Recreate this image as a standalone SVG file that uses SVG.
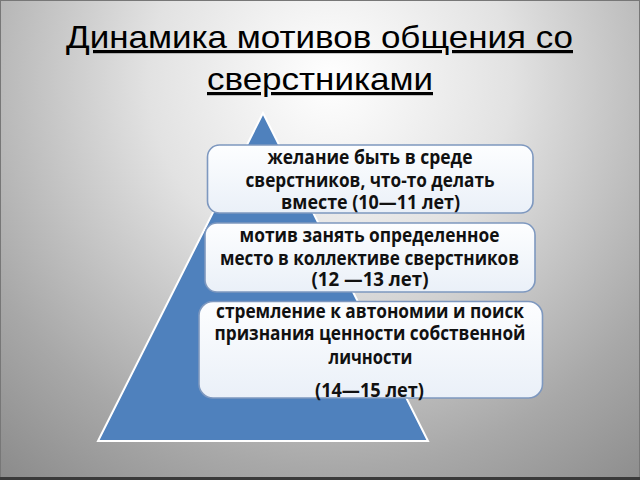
<svg xmlns="http://www.w3.org/2000/svg" width="640" height="480" viewBox="0 0 640 480">
  <defs>
    <radialGradient id="bg" cx="330" cy="80" r="520" gradientUnits="userSpaceOnUse">
      <stop offset="0" stop-color="#ffffff"/>
      <stop offset="0.35" stop-color="#e2e2e2"/>
      <stop offset="0.75" stop-color="#a8a8a8"/>
      <stop offset="1" stop-color="#8a8a8a"/>
    </radialGradient>
    <linearGradient id="boxfill" x1="0" y1="0" x2="0" y2="1">
      <stop offset="0" stop-color="#fdfeff"/>
      <stop offset="1" stop-color="#eaf0f8"/>
    </linearGradient>
  </defs>
  <style>
    .title { font-family: "Liberation Sans", Arial, sans-serif; font-size: 32px; fill: #000; text-decoration: underline; }
    .box { fill: url(#boxfill); stroke: #7e98bf; stroke-width: 1.6; }
    .lbl { font-family: "Open Sans", "Noto Sans", sans-serif; font-weight: bold; font-size: 20px; fill: #111; text-anchor: middle; }
  </style>

  <rect x="0" y="0" width="640" height="480" fill="url(#bg)"/>
  <rect x="0.5" y="0.5" width="639" height="479" fill="none" stroke="#777" stroke-width="1"/>
  <line x1="0" y1="478.5" x2="640" y2="478.5" stroke="#3a3a3a" stroke-width="3"/>

  <g id="title">
    <text class="title" x="66" y="48" textLength="507" lengthAdjust="spacingAndGlyphs">Динамика мотивов общения со</text>
    <text class="title" x="207" y="90" textLength="226" lengthAdjust="spacingAndGlyphs">сверстниками</text>
  </g>

  <g id="pyramid">
    <polygon points="263,113 428,441 98,441" fill="#4f81bd" stroke="#ffffff" stroke-width="2" stroke-linejoin="miter"/>
  </g>

  <g id="connectors"/>

  <g id="level1">
    <rect class="box" x="207.5" y="145" width="325.5" height="68" rx="12"/>
    <text class="lbl" x="370" y="164" textLength="205" lengthAdjust="spacingAndGlyphs">желание быть в среде</text>
    <text class="lbl" x="370" y="187" textLength="249" lengthAdjust="spacingAndGlyphs">сверстников, что-то делать</text>
    <text class="lbl" x="370.5" y="209" textLength="179" lengthAdjust="spacingAndGlyphs">вместе (10—11 лет)</text>
  </g>

  <g id="level2">
    <rect class="box" x="205" y="223" width="330" height="69" rx="12"/>
    <text class="lbl" x="369.5" y="241.5" textLength="260" lengthAdjust="spacingAndGlyphs">мотив занять определенное</text>
    <text class="lbl" x="369.5" y="264.5" textLength="299" lengthAdjust="spacingAndGlyphs">место в коллективе сверстников</text>
    <text class="lbl" x="370" y="286" textLength="117" lengthAdjust="spacingAndGlyphs">(12 —13 лет)</text>
  </g>

  <g id="level3">
    <rect class="box" x="199" y="301.5" width="343.5" height="96.5" rx="14"/>
    <text class="lbl" x="370" y="317.5" textLength="308" lengthAdjust="spacingAndGlyphs">стремление к автономии и поиск</text>
    <text class="lbl" x="370" y="340" textLength="311" lengthAdjust="spacingAndGlyphs">признания ценности собственной</text>
    <text class="lbl" x="370.5" y="363.5" textLength="84" lengthAdjust="spacingAndGlyphs">личности</text>
    <text class="lbl" x="369.5" y="397" textLength="109" lengthAdjust="spacingAndGlyphs">(14—15 лет)</text>
  </g>
</svg>
